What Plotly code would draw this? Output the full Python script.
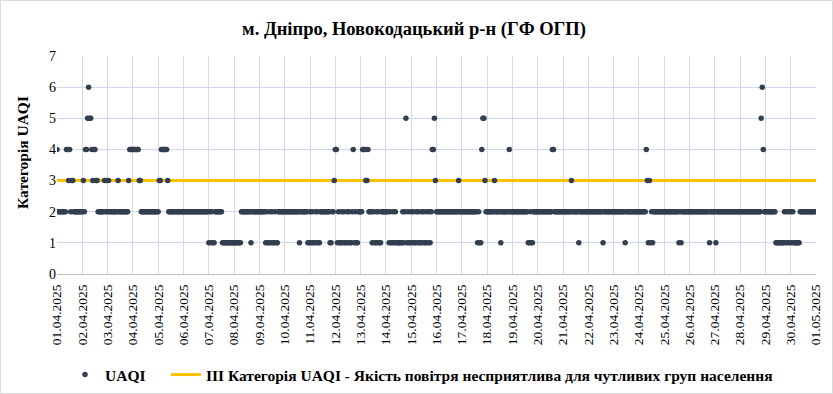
import pandas as pd
import plotly.graph_objects as go

title_text = "м. Дніпро, Новокодацький р-н (ГФ ОГП)"
y_title = "Категорія UAQI"
series_name = "UAQI"
threshold_name = "III Категорія UAQI - Якість повітря несприятлива для чутливих груп населення"
threshold_value = 3
start_date = "2025-04-01 00:00"
end_date = "2025-05-01 00:00"

# Hourly UAQI category, one string of 24 hours per day (01.04 .. 30.04)
hourly_by_day = [
    "422222222443423322222222",  # 01.04
    "232445655434433222222323",  # 02.04
    "232222222232222222223444",  # 03.04
    "444444332222222222222222",  # 04.04
    "233444444322222222222222",  # 05.04
    "222222222222222222222222",  # 06.04
    "121211222222211111111111",  # 07.04
    "111111122222222212222222",  # 08.04
    "222222121121211211222222",  # 09.04
    "222222222222221222222211",  # 10.04
    "212112121122222222211223",  # 11.04
    "441211212112121124121122",  # 12.04
    "224443342221211212112222",  # 13.04
    "222121121211111121251211",  # 14.04
    "212112121121211212124453",  # 15.04
    "222222222222222222222322",  # 16.04
    "222222222222222121145532",  # 17.04
    "222222232222212222222422",  # 18.04
    "222222222222222112112222",  # 19.04
    "222222222222224422222222",  # 20.04
    "222222223222222122222222",  # 21.04
    "222222222222221222222222",  # 22.04
    "222222222221222222222222",  # 23.04
    "222222243131212222222222",  # 24.04
    "222222222222221212222222",  # 25.04
    "222222222222222222212222",  # 26.04
    "212222222222222222222222",  # 27.04
    "222222222222222222225642",  # 28.04
    "222222222211111111212121",  # 29.04
    "212111111222222222222222",  # 30.04
]

uaqi_values = [int(c) for day in hourly_by_day for c in day]
timestamps = pd.date_range(start_date, periods=len(uaqi_values), freq="h")

FONT = "Liberation Serif, Times New Roman, serif"

fig = go.Figure()
fig.add_trace(go.Scatter(
    x=[pd.Timestamp(start_date), pd.Timestamp(end_date)],
    y=[threshold_value, threshold_value],
    mode="lines",
    name=threshold_name,
    line=dict(color="#FFC000", width=3),
    legend="legend2",
))
fig.add_trace(go.Scatter(
    x=timestamps,
    y=uaqi_values,
    mode="markers",
    name=series_name,
    marker=dict(color="#333F50", size=5.5),
    legend="legend",
))

L, R, T, B = 57, 17, 56, 120
W, H = 833, 394
pw, ph = W - L - R, H - T - B


def px_x(x):
    return (x - L) / pw


def px_y(y):
    return (T + ph - y) / ph


legend_font = dict(size=15.5, family=FONT, weight="bold")

fig.update_layout(
    template="none",
    width=W, height=H,
    margin=dict(l=L, r=R, t=T, b=B, autoexpand=False),
    paper_bgcolor="white", plot_bgcolor="white",
    font=dict(family=FONT, color="#000000"),
    title=dict(text="<b>" + title_text + "</b>", x=px_x(414), xanchor="center",
               xref="paper", y=1 - 29 / H, yanchor="middle",
               font=dict(size=18.5, family=FONT)),
    showlegend=True,
    legend=dict(orientation="h", x=px_x(65), xanchor="left",
                y=px_y(375), yanchor="middle", font=legend_font,
                itemwidth=30, bgcolor="rgba(0,0,0,0)"),
    legend2=dict(orientation="h", x=px_x(166), xanchor="left",
                 y=px_y(375), yanchor="middle", font=legend_font,
                 itemwidth=30, bgcolor="rgba(0,0,0,0)"),
    annotations=[dict(text="<b>" + y_title + "</b>", textangle=-90,
                      xref="paper", yref="paper", x=px_x(22), y=px_y(153),
                      xanchor="center", yanchor="middle", showarrow=False,
                      font=dict(size=15.5, family=FONT))],
    shapes=[dict(type="rect", xref="paper", yref="paper",
                 x0=px_x(0.5), x1=px_x(W - 0.5),
                 y0=px_y(H - 0.5), y1=px_y(0.5),
                 line=dict(color="#D9D9D9", width=1), layer="below")],
)

fig.update_xaxes(
    type="date",
    automargin=False,
    range=[start_date, end_date],
    dtick=86400000,
    tick0=start_date,
    tickformat="%d.%m.%Y",
    tickangle=-90,
    tickfont=dict(size=13.5, family=FONT),
    showgrid=True, gridcolor="#D9D9D9", gridwidth=1,
    showline=True, linecolor="#BFBFBF", linewidth=1,
    zeroline=False,
    ticks="", ticklabelstandoff=4,
)
fig.update_yaxes(
    automargin=False,
    range=[0, 7], dtick=1,
    tickfont=dict(size=14, family=FONT),
    showgrid=True, gridcolor="#D0D8EC", gridwidth=1,
    zeroline=False, showline=False,
    ticks="",
)

fig.write_html("out.html", config={"displayModeBar": False},
               post_script="document.body.style.margin='0';")
